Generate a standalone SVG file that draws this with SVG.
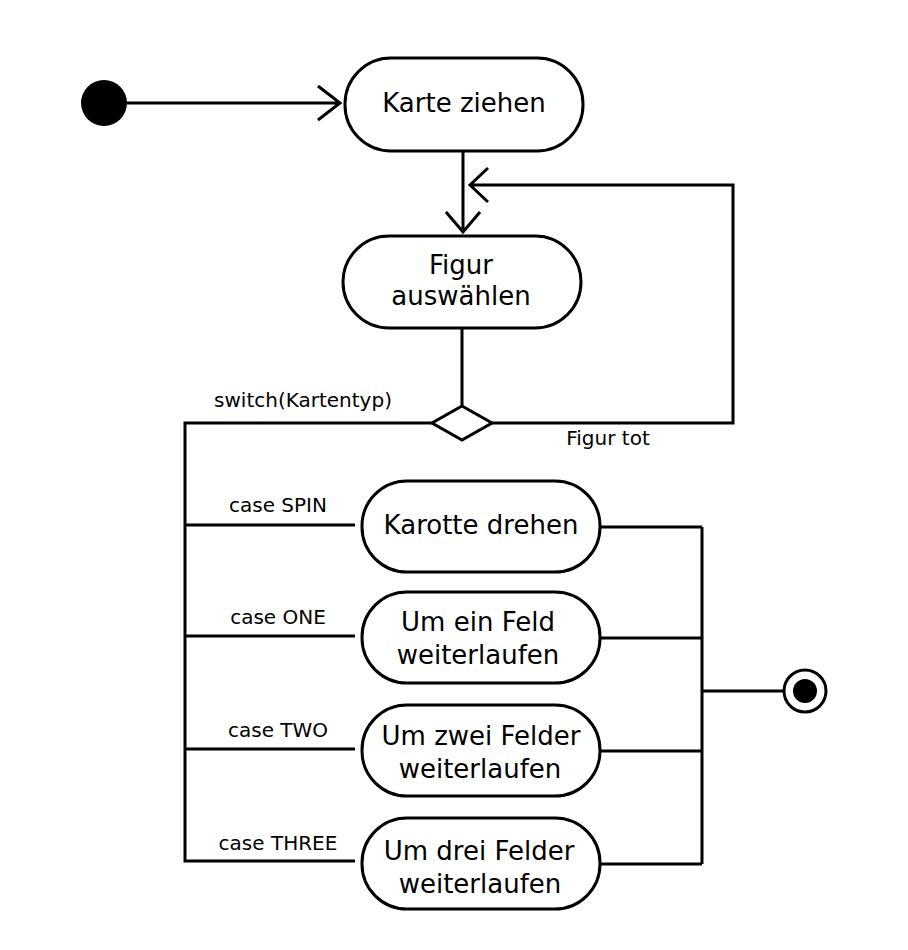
<svg xmlns="http://www.w3.org/2000/svg" width="908" height="950" viewBox="0 0 908 950">
<defs>
<style>
.node{fill:#fff;stroke:#000;stroke-width:3}
.t{font-family:"DejaVu Sans",sans-serif;font-size:26px;text-anchor:middle;fill:#000}
.l{font-family:"DejaVu Sans",sans-serif;font-size:20px;text-anchor:middle;fill:#000}
.c{fill:none;stroke:#000;stroke-width:3}
</style>
</defs>
<rect width="908" height="950" fill="#fff"/>
<g id="start"><ellipse cx="104" cy="103" rx="23" ry="23" fill="#000"/></g>
<g id="karte"><rect class="node" x="345" y="58" width="238" height="93" rx="46"/><text class="t" x="464" y="112">Karte ziehen</text></g>
<g id="figur"><rect class="node" x="343" y="236" width="238" height="92" rx="46"/><text class="t" x="461" y="274">Figur</text><text class="t" x="461" y="305">auswählen</text></g>
<g id="decision"><polygon class="node" points="462,406 492,423 462,440 432,423"/></g>
<g id="karotte"><rect class="node" x="362" y="481" width="238" height="91" rx="45"/><text class="t" x="481" y="534">Karotte drehen</text></g>
<g id="eins"><rect class="node" x="362" y="592" width="238" height="91" rx="45"/><text class="t" x="478" y="631">Um ein Feld</text><text class="t" x="478" y="664">weiterlaufen</text></g>
<g id="zwei"><rect class="node" x="362" y="705" width="238" height="91" rx="45"/><text class="t" x="481" y="745">Um zwei Felder</text><text class="t" x="480" y="778">weiterlaufen</text></g>
<g id="drei"><rect class="node" x="362" y="818" width="238" height="91" rx="45"/><text class="t" x="479" y="860">Um drei Felder</text><text class="t" x="480" y="893">weiterlaufen</text></g>
<g id="end"><circle cx="805" cy="691" r="21" fill="#fff" stroke="#000" stroke-width="3"/><circle cx="805" cy="691" r="12" fill="#000"/></g>
<g id="connectors">
<path class="c" d="M127,103 H340 M318,86 L340,103 L318,120"/>
<path class="c" d="M463,151 V232 M446,212 L463,232 L480,212"/>
<path class="c" d="M462,328 V406"/>
<path class="c" d="M492,423 H733 V185 H470 M488,168 L470,185 L488,202"/>
<path class="c" d="M432,423 H185 V861 H355 M185,525 H355 M185,636 H355 M185,749 H355"/>
<path class="c" d="M600,527 H702 M600,638 H702 M600,751 H702 M600,864 H702 M702,527 V864 M702,691 H784"/>
<text class="l" x="303" y="407">switch(Kartentyp)</text>
<text class="l" x="608" y="445">Figur tot</text>
<text class="l" x="278" y="512">case SPIN</text>
<text class="l" x="278" y="624">case ONE</text>
<text class="l" x="278" y="737">case TWO</text>
<text class="l" x="278" y="850">case THREE</text>
</g>
</svg>
